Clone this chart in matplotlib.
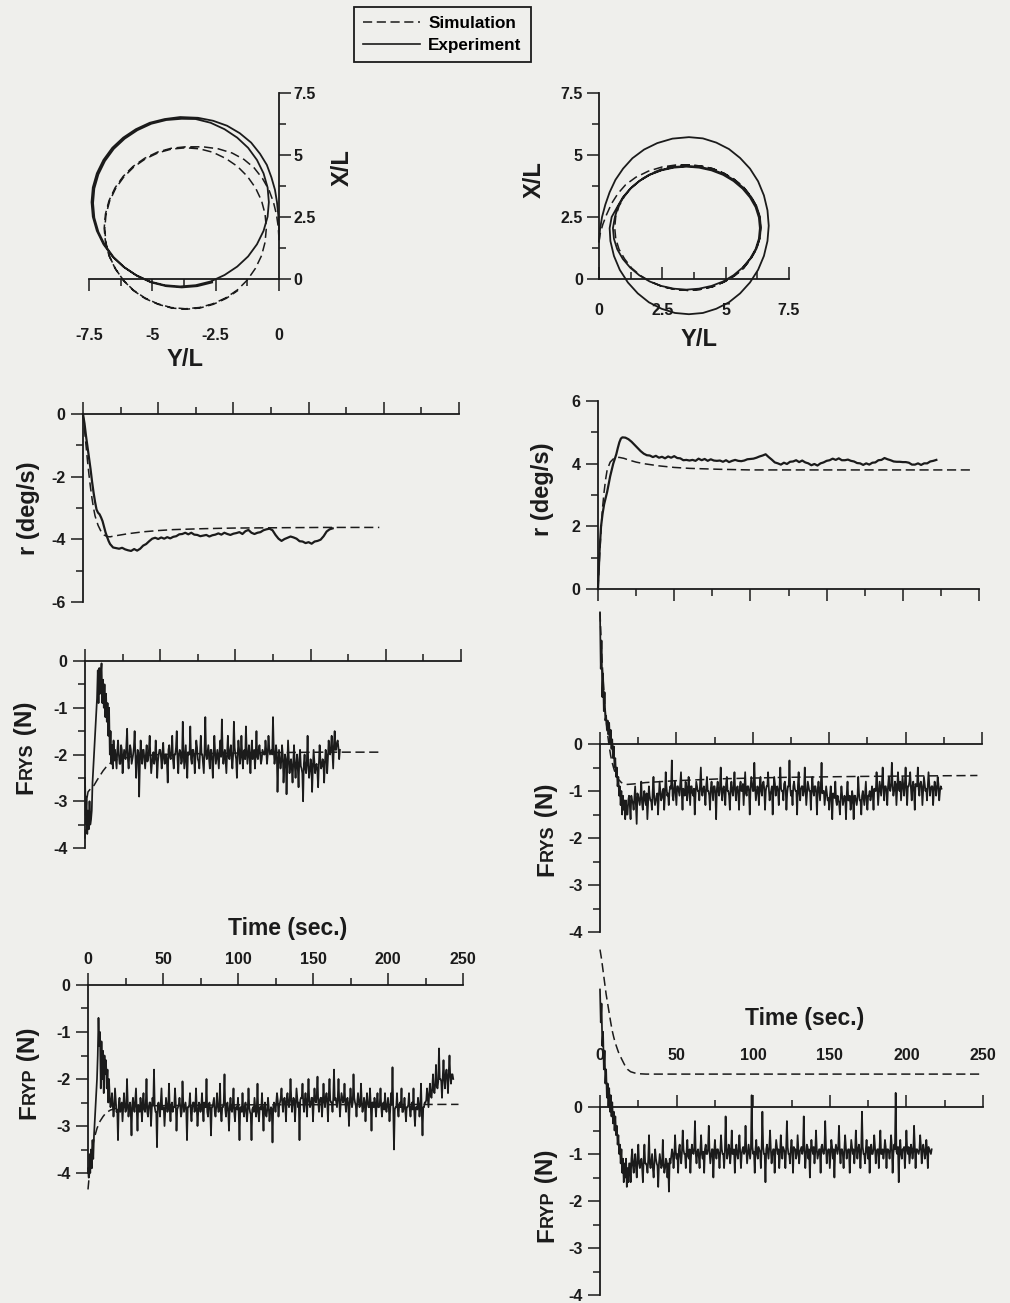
import numpy as np
import matplotlib
matplotlib.use("Agg")
import matplotlib.pyplot as plt
from matplotlib.lines import Line2D
from matplotlib.ticker import FuncFormatter

plt.rcParams['font.family'] = ['Liberation Sans', 'DejaVu Sans']
plt.rcParams['font.weight'] = 'bold'

W, H = 1010, 1303
INK = '#1b1b1b'
PAPER = '#efefec'
DASHED = (0, (6.0, 3.0))

# ---------------- trajectories, (Y/L, X/L) ----------------
traj_left_exp = [
    (0.0, 1.6), (0.0, 2.1), (-0.03, 2.6), (-0.08, 3.1), (-0.16, 3.6), (-0.3, 4.1),
    (-0.48, 4.6), (-0.75, 5.05), (-1.1, 5.5), (-1.55, 5.88), (-2.05, 6.18), (-2.6, 6.38),
    (-3.2, 6.5), (-3.9, 6.53), (-4.51, 6.45), (-5.1, 6.3), (-5.65, 6.04), (-6.15, 5.7),
    (-6.58, 5.29), (-6.93, 4.8), (-7.19, 4.26), (-7.35, 3.69), (-7.4, 3.1), (-7.35, 2.51),
    (-7.19, 1.94), (-6.93, 1.4), (-6.58, 0.91), (-6.15, 0.5), (-5.65, 0.16), (-5.1, -0.1),
    (-4.51, -0.25), (-3.9, -0.3), (-3.29, -0.25), (-2.7, -0.1), (-2.15, 0.16), (-1.65, 0.5),
    (-1.22, 0.91), (-0.87, 1.4), (-0.61, 1.94), (-0.45, 2.51), (-0.4, 3.1), (-0.45, 3.69),
    (-0.61, 4.26), (-0.87, 4.8), (-1.22, 5.29), (-1.65, 5.7), (-2.15, 6.04), (-2.7, 6.3),
    (-3.29, 6.45), (-3.84, 6.46), (-4.45, 6.41), (-5.04, 6.26), (-5.59, 6.0), (-6.09, 5.66),
    (-6.52, 5.25), (-6.87, 4.76), (-7.13, 4.22), (-7.29, 3.65), (-7.34, 3.06), (-7.29, 2.47),
    (-7.13, 1.9), (-6.87, 1.36), (-6.52, 0.87), (-6.09, 0.46), (-5.59, 0.12), (-5.04, -0.14),
    (-4.45, -0.29), (-3.84, -0.34), (-3.23, -0.29), (-2.64, -0.14),
]
traj_left_sim = [
    (0.0, 1.6), (-0.03, 2.1), (-0.1, 2.6), (-0.22, 3.1), (-0.4, 3.6), (-0.65, 4.05),
    (-0.98, 4.48), (-1.38, 4.82), (-1.85, 5.08), (-2.4, 5.25), (-3.0, 5.33), (-3.7, 5.33),
    (-4.26, 5.27), (-4.79, 5.12), (-5.3, 4.87), (-5.76, 4.54), (-6.15, 4.14), (-6.47, 3.68),
    (-6.71, 3.16), (-6.85, 2.62), (-6.9, 2.05), (-6.85, 1.48), (-6.71, 0.94), (-6.47, 0.43),
    (-6.15, -0.04), (-5.76, -0.44), (-5.3, -0.76), (-4.79, -1.0), (-4.26, -1.15), (-3.7, -1.2),
    (-3.14, -1.15), (-2.61, -1.0), (-2.1, -0.76), (-1.64, -0.44), (-1.25, -0.04), (-0.93, 0.43),
    (-0.69, 0.94), (-0.55, 1.48), (-0.5, 2.05), (-0.55, 2.62), (-0.69, 3.16), (-0.93, 3.68),
    (-1.25, 4.14), (-1.64, 4.54), (-2.1, 4.86), (-2.61, 5.11), (-3.14, 5.25), (-3.68, 5.29),
    (-4.24, 5.24), (-4.77, 5.09), (-5.28, 4.84), (-5.74, 4.51), (-6.13, 4.11), (-6.45, 3.65),
    (-6.69, 3.13), (-6.83, 2.59), (-6.88, 2.02), (-6.83, 1.45), (-6.69, 0.91), (-6.45, 0.4),
    (-6.13, -0.07), (-5.74, -0.47), (-5.28, -0.79), (-4.77, -1.02), (-4.24, -1.17),
    (-3.68, -1.22), (-3.12, -1.17), (-2.59, -1.02), (-2.08, -0.78), (-1.62, -0.46),
]
traj_right_exp = [
    (0.0, 1.5), (0.04, 2.0), (0.12, 2.5), (0.25, 3.0), (0.42, 3.5), (0.65, 4.0),
    (0.95, 4.45), (1.32, 4.87), (1.78, 5.22), (2.3, 5.48), (2.9, 5.66), (3.55, 5.72),
    (4.1, 5.67), (4.63, 5.5), (5.13, 5.24), (5.57, 4.88), (5.96, 4.45), (6.28, 3.94),
    (6.51, 3.37), (6.65, 2.77), (6.7, 2.15), (6.65, 1.53), (6.51, 0.93), (6.28, 0.37),
    (5.96, -0.14), (5.57, -0.58), (5.13, -0.94), (4.63, -1.2), (4.1, -1.37), (3.55, -1.42),
    (3.0, -1.37), (2.47, -1.2), (1.97, -0.94), (1.53, -0.58), (1.14, -0.14), (0.82, 0.37),
    (0.59, 0.93), (0.45, 1.53), (0.42, 2.05), (0.5, 2.5), (0.72, 2.9), (0.94, 3.29),
    (1.23, 3.64), (1.59, 3.95), (2.0, 4.2), (2.46, 4.38), (2.95, 4.49), (3.45, 4.53),
    (3.95, 4.49), (4.44, 4.38), (4.9, 4.2), (5.31, 3.95), (5.67, 3.64), (5.96, 3.29),
    (6.18, 2.9), (6.31, 2.48), (6.35, 2.05), (6.31, 1.62), (6.18, 1.2), (5.96, 0.81),
    (5.67, 0.46), (5.31, 0.15), (4.9, -0.1), (4.44, -0.28), (3.95, -0.39), (3.45, -0.43),
    (2.95, -0.39), (2.46, -0.28), (2.0, -0.1), (1.59, 0.15), (1.23, 0.46), (0.94, 0.81),
    (0.72, 1.2), (0.59, 1.62), (0.55, 2.05), (0.63, 2.51), (0.76, 2.93), (0.98, 3.32),
    (1.27, 3.67), (1.63, 3.98), (2.04, 4.23), (2.5, 4.41), (2.99, 4.52), (3.49, 4.56),
    (3.99, 4.52), (4.48, 4.41), (4.94, 4.23), (5.35, 3.98), (5.71, 3.67), (6.0, 3.32),
    (6.22, 2.93), (6.35, 2.51), (6.39, 2.08), (6.35, 1.65), (6.22, 1.23), (6.0, 0.84),
    (5.71, 0.49),
]
traj_right_sim = [
    (0.0, 1.5), (0.04, 1.8), (0.15, 2.2), (0.3, 2.6), (0.5, 3.05), (0.75, 3.45),
    (1.05, 3.8), (1.45, 4.1), (1.95, 4.35), (2.5, 4.52), (3.05, 4.6), (3.5, 4.6),
    (4.0, 4.56), (4.49, 4.45), (4.94, 4.26), (5.35, 4.01), (5.71, 3.7), (5.99, 3.34),
    (6.21, 2.94), (6.34, 2.51), (6.38, 2.07), (6.34, 1.63), (6.21, 1.2), (5.99, 0.81),
    (5.71, 0.44), (5.35, 0.13), (4.94, -0.12), (4.49, -0.31), (4.0, -0.42), (3.5, -0.46),
    (3.0, -0.42), (2.51, -0.31), (2.06, -0.12), (1.65, 0.13), (1.29, 0.44), (1.01, 0.81),
    (0.79, 1.2), (0.66, 1.63), (0.62, 2.07), (0.66, 2.51), (0.79, 2.94), (1.01, 3.34),
    (1.29, 3.7), (1.65, 4.01), (2.06, 4.26), (2.51, 4.45), (3.0, 4.56), (3.5, 4.6),
    (4.0, 4.56), (4.49, 4.45), (4.94, 4.26), (5.35, 4.01), (5.71, 3.7), (5.99, 3.34),
    (6.21, 2.94), (6.34, 2.51), (6.38, 2.07), (6.34, 1.63), (6.21, 1.2), (5.99, 0.81),
    (5.71, 0.44), (5.35, 0.13), (4.94, -0.12), (4.49, -0.31), (4.0, -0.42), (3.5, -0.46),
    (3.0, -0.42), (2.51, -0.31), (2.06, -0.12),
]

# ---------------- yaw rate r (deg/s) ----------------
r_left_sim_t = [0, 1, 2, 3, 4, 5, 6, 7, 8, 10, 12, 14, 16, 18, 20, 25, 30, 40, 50, 60, 80, 100, 130, 160, 197]
r_left_sim = [0.0, -0.5, -1.0, -1.5, -1.95, -2.35, -2.7, -3.0, -3.25, -3.55, -3.75, -3.86, -3.91,
              -3.92, -3.9, -3.86, -3.82, -3.76, -3.72, -3.69, -3.66, -3.64, -3.63, -3.62, -3.62]
r_left_exp_t = [0, 1, 2, 3, 4, 5, 6, 7, 8, 9, 10, 11, 12, 13, 14, 15, 16, 17, 18, 20, 22, 24, 26, 28]
r_left_exp = [0.0, -0.3, -0.7, -1.05, -1.4, -1.75, -2.15, -2.5, -2.8, -3.05, -3.15, -3.2, -3.3,
              -3.42, -3.6, -3.78, -3.92, -4.05, -4.15, -4.26, -4.28, -4.3, -4.27, -4.32]
r_left_tail_t0, r_left_tail_dt = 30, 2
r_left_tail = [
    -4.35, -4.37, -4.31, -4.36, -4.3, -4.2, -4.15, -4.06, -3.98, -3.95,
    -3.99, -3.94, -3.98, -3.93, -3.97, -3.92, -3.9, -3.84, -3.83, -3.79,
    -3.84, -3.79, -3.85, -3.86, -3.9, -3.88, -3.86, -3.91, -3.87, -3.85,
    -3.81, -3.85, -3.79, -3.83, -3.86, -3.82, -3.8, -3.77, -3.83, -3.74,
    -3.7, -3.79, -3.83, -3.79, -3.77, -3.71, -3.68, -3.66, -3.71, -3.86,
    -3.98, -4.05, -3.99, -3.95, -3.91, -3.94, -3.98, -4.06, -4.07, -4.12,
    -4.09, -4.14, -4.07, -4.05, -4.01, -3.9, -3.75, -3.68, -3.65,
]
r_right_sim_t = [0, 1, 2, 3, 4, 5, 6, 8, 10, 12, 14, 17, 20, 25, 30, 40, 50, 60, 80, 100, 150, 247]
r_right_sim = [0.0, 1.0, 1.9, 2.6, 3.1, 3.5, 3.8, 4.05, 4.15, 4.2, 4.2, 4.17, 4.12, 4.05, 4.0,
               3.93, 3.88, 3.85, 3.82, 3.8, 3.8, 3.8]
r_right_exp_t = [0, 1, 2, 3, 4, 5, 6, 7, 8, 9, 10, 11, 12, 13, 14, 15, 16, 18, 20, 22, 24, 26, 28]
r_right_exp = [0.0, 1.2, 2.0, 2.4, 2.7, 2.9, 3.1, 3.35, 3.6, 3.8, 4.0, 4.15, 4.3, 4.5, 4.68, 4.8,
               4.84, 4.83, 4.78, 4.7, 4.6, 4.5, 4.4]
r_right_tail_t0, r_right_tail_dt = 30, 2
r_right_tail = [
    4.32, 4.27, 4.26, 4.21, 4.25, 4.19, 4.22, 4.17, 4.23, 4.19,
    4.24, 4.18, 4.17, 4.11, 4.12, 4.1, 4.12, 4.09, 4.16, 4.11,
    4.15, 4.09, 4.14, 4.1, 4.09, 4.1, 4.06, 4.11, 4.05, 4.09,
    4.12, 4.09, 4.08, 4.1, 4.14, 4.15, 4.16, 4.19, 4.23, 4.26,
    4.3, 4.21, 4.13, 4.04, 4.01, 3.97, 4.03, 3.99, 4.06, 4.07,
    4.11, 4.05, 4.1, 4.04, 4.01, 3.95, 3.99, 3.94, 4.01, 4.04,
    4.09, 4.11, 4.16, 4.12, 4.17, 4.11, 4.11, 4.13, 4.09, 4.07,
    4.02, 4.01, 3.96, 4.01, 3.97, 4.03, 4.04, 4.11, 4.12, 4.18,
    4.14, 4.11, 4.07, 4.06, 4.06, 4.05, 4.05, 4.03, 3.97, 3.97,
    4.01, 3.96, 4.01, 4.01, 4.07, 4.09, 4.12,
]

# ---------------- side force FRYS (N) ----------------
# recorded samples: transient (own times), then 1 s samples ("tail") and the
# samples half a second after each of them ("half")
frys_left_sim_t = [0, 1, 2, 4, 6, 8, 10, 12, 14, 17, 20, 30, 50, 80, 120, 160, 197]
frys_left_sim = [-3.8, -3.0, -2.8, -2.72, -2.66, -2.55, -2.45, -2.35, -2.27, -2.18, -2.12,
                 -2.05, -2.0, -1.98, -1.96, -1.95, -1.95]
frys_left_exp_t = [0, 0.5, 1, 1.5, 2, 2.5, 3, 3.5, 4, 4.5, 5, 6, 7, 8, 8.5, 9, 9.5, 10, 10.5,
                   11, 11.5, 12, 12.5, 13, 13.5, 14, 14.5, 15, 15.5, 16, 16.5, 17, 17.5, 18,
                   18.5, 19, 19.5]
frys_left_exp = [-2.5, -3.3, -2.9, -3.7, -3.2, -3.6, -3.0, -3.5, -3.4, -3.2, -2.6, -2.0, -1.4,
                 -0.8, -0.2, -0.9, -0.15, -0.7, -0.3, -0.05, -0.9, -0.4, -1.0, -0.5, -1.2, -0.7,
                 -1.3, -0.9, -1.6, -1.0, -2.0, -1.5, -2.2, -1.8, -2.3, -1.7, -2.1]
frys_left_tail_t0 = 20
frys_left_tail = [
    -1.9, -2.3, -1.7, -2.2, -1.8, -2.4, -1.9, -2.1, -1.45, -2.3,
    -1.8, -2.2, -2.0, -1.5, -2.5, -1.9, -2.9, -1.7, -2.2, -1.9,
    -2.3, -1.8, -2.1, -1.6, -2.4, -2.0, -2.2, -1.7, -2.5, -2.0,
    -1.9, -2.3, -1.75, -2.2, -2.0, -2.6, -1.8, -2.1, -1.6, -2.3,
    -2.0, -1.5, -2.4, -1.9, -2.2, -1.3, -2.3, -1.8, -2.5, -2.0,
    -1.4, -2.2, -1.9, -2.4, -1.7, -2.1, -2.3, -1.6, -2.0, -2.4,
    -1.2, -2.1, -1.8, -2.3, -1.9, -2.5, -1.6, -2.2, -1.9, -2.3,
    -1.7, -1.25, -2.2, -1.9, -2.4, -1.6, -2.1, -1.8, -2.3, -1.3,
    -2.0, -2.5, -1.7, -2.2, -1.6, -2.3, -1.9, -1.4, -2.2, -1.8,
    -2.4, -1.7, -2.0, -2.3, -1.5, -2.1, -1.8, -2.2, -1.9, -2.0,
    -1.7, -2.2, -1.6, -2.0, -1.9, -1.2, -2.2, -1.8, -2.8, -1.9,
    -2.3, -1.8, -2.6, -2.0, -2.85, -1.7, -2.4, -2.1, -2.6, -1.8,
    -2.5, -2.0, -2.7, -1.9, -2.3, -3.0, -2.0, -2.4, -1.6, -2.5,
    -2.1, -2.8, -1.9, -2.4, -2.2, -2.7, -1.8, -2.3, -2.1, -2.6,
    -1.9, -2.4, -1.7, -2.0, -1.6, -2.3, -1.5, -1.9, -1.7, -2.1,
]
frys_left_half = [
    -2.1, -1.9, -2.0, -2.2, -1.9, -2.1, -2.0, -1.8, -2.1, -2.0,
    -1.9, -2.1, -1.85, -2.0, -2.15, -1.95, -2.2, -2.0, -1.9, -2.1,
    -2.0, -2.15, -1.9, -2.05, -2.2, -1.95, -2.1, -2.0, -2.15, -1.9,
    -2.05, -1.95, -2.1, -2.0, -2.2, -1.9, -2.05, -1.95, -2.1, -2.0,
    -1.85, -2.1, -2.0, -1.95, -2.15, -1.9, -2.05, -2.2, -1.95, -2.0,
    -2.1, -1.9, -2.05, -2.0, -1.85, -2.15, -1.95, -2.0, -2.2, -1.9,
    -2.0, -1.95, -2.1, -1.9, -2.15, -2.0, -1.95, -2.05, -2.1, -1.9,
    -2.05, -1.9, -2.0, -2.15, -1.95, -2.05, -1.9, -2.1, -2.0, -1.85,
    -2.1, -2.0, -1.9, -2.05, -2.0, -1.95, -2.1, -1.9, -2.0, -2.05,
    -1.95, -2.1, -1.9, -2.0, -2.05, -1.9, -2.0, -2.1, -1.95, -2.0,
    -1.9, -2.0, -1.85, -1.95, -2.0, -1.9, -2.05, -1.95, -2.2, -2.1,
    -2.15, -2.0, -2.25, -2.1, -2.3, -2.05, -2.2, -2.3, -2.15, -2.25,
    -2.2, -2.3, -2.1, -2.25, -2.4, -2.2, -2.3, -2.15, -2.25, -2.35,
    -2.2, -2.3, -2.15, -2.25, -2.35, -2.2, -2.1, -2.25, -2.15, -2.2,
    -2.0, -2.1, -1.9, -1.85, -1.95, -1.8, -1.9, -1.75, -1.85, -1.9,
]
frys_right_sim_t = [0, 1, 2, 3, 4, 5, 6, 7, 8, 9, 10, 12, 14, 16, 18, 22, 30, 50, 80, 120, 170, 247]
frys_right_sim = [2.8, 2.0, 1.4, 0.9, 0.5, 0.2, -0.05, -0.25, -0.4, -0.52, -0.62, -0.75, -0.82,
                  -0.85, -0.86, -0.85, -0.82, -0.78, -0.74, -0.71, -0.69, -0.67]
frys_right_exp_t = [0, 0.5, 1, 1.5, 2, 2.5, 3, 3.5, 4, 4.5, 5, 5.5, 6, 6.5, 7, 7.5, 8, 8.5, 9,
                    9.5, 10, 10.5, 11, 11.5, 12, 12.5, 13, 13.5, 14, 14.5, 15, 15.5, 16, 16.5,
                    17, 17.5]
frys_right_exp = [2.8, 1.6, 2.2, 1.0, 1.5, 0.7, 1.1, 0.5, 0.6, 0.3, 0.5, 0.2, 0.45, 0.0, 0.3,
                  -0.1, 0.1, -0.3, -0.05, -0.5, -0.3, -0.7, -0.5, -0.9, -0.7, -1.1, -0.9, -1.3,
                  -1.0, -1.5, -1.1, -1.4, -1.2, -1.6, -1.2, -1.5]
frys_right_tail_t0 = 18
frys_right_tail = [
    -1.5, -1.1, -1.6, -1.2, -1.4, -0.9, -1.7, -1.1, -1.3, -0.8,
    -1.4, -1.0, -1.3, -1.6, -0.9, -1.2, -1.4, -0.7, -1.3, -1.1,
    -1.5, -0.8, -1.2, -1.0, -1.4, -0.6, -1.1, -1.3, -0.9, -0.35,
    -1.2, -0.8, -1.3, -0.9, -1.1, -0.6, -1.4, -1.0, -0.8, -1.2,
    -0.7, -1.3, -0.9, -1.1, -1.5, -0.8, -1.0, -1.2, -0.5, -1.1,
    -0.9, -1.3, -0.7, -1.0, -1.4, -0.8, -1.2, -0.9, -1.6, -0.8,
    -1.1, -0.5, -1.2, -0.9, -1.3, -0.7, -1.0, -1.4, -0.8, -1.1,
    -0.6, -1.2, -0.9, -1.4, -0.8, -1.0, -1.3, -0.6, -1.1, -0.9,
    -1.5, -0.7, -1.0, -0.4, -1.2, -0.9, -1.3, -0.7, -1.1, -0.8,
    -1.4, -0.9, -0.6, -1.2, -1.0, -1.5, -0.7, -1.1, -0.9, -1.3,
    -0.5, -1.0, -1.2, -0.8, -1.4, -0.9, -0.35, -1.1, -1.3, -0.8,
    -1.0, -1.5, -0.6, -1.2, -0.9, -1.1, -0.5, -1.3, -0.8, -1.0,
    -1.4, -0.7, -1.1, -0.9, -1.5, -0.8, -1.2, -0.4, -1.0, -1.3,
    -0.9, -1.2, -1.4, -0.9, -1.6, -1.1, -0.8, -1.3, -1.2, -1.5,
    -0.9, -1.3, -1.1, -1.6, -0.8, -1.2, -1.4, -1.0, -1.6, -1.1,
    -1.3, -0.7, -1.2, -1.5, -1.0, -1.3, -0.8, -1.4, -1.1, -1.2,
    -0.9, -1.4, -1.0, -0.6, -1.3, -0.8, -1.1, -0.5, -1.2, -0.9,
    -1.3, -0.7, -1.0, -0.4, -1.1, -0.8, -1.3, -0.6, -1.0, -1.2,
    -0.7, -1.1, -0.5, -1.3, -0.9, -0.6, -1.2, -0.8, -1.4, -0.9,
    -0.5, -1.1, -0.8, -1.3, -0.7, -1.0, -1.2, -0.6, -1.1, -0.9,
    -1.3, -0.8, -1.1, -0.7, -1.2, -0.9,
]
frys_right_half = [
    -1.2, -1.3, -1.1, -1.25, -1.15, -1.3, -1.05, -1.2, -1.1, -1.25,
    -1.15, -1.2, -1.05, -1.25, -1.1, -1.2, -1.0, -1.15, -1.2, -1.05,
    -1.1, -1.0, -1.15, -0.95, -1.1, -0.9, -1.05, -1.0, -0.95, -1.1,
    -0.95, -1.05, -0.9, -1.0, -0.85, -1.05, -0.95, -1.1, -0.9, -1.0,
    -1.0, -0.9, -1.05, -0.95, -1.1, -0.9, -1.0, -0.85, -1.0, -0.95,
    -1.05, -0.9, -1.0, -1.1, -0.95, -1.0, -0.9, -1.05, -0.95, -1.0,
    -0.9, -1.0, -0.95, -1.05, -0.85, -1.0, -1.1, -0.95, -1.0, -0.9,
    -1.0, -0.95, -1.05, -0.9, -1.0, -0.85, -0.95, -1.05, -0.9, -1.0,
    -0.95, -0.85, -1.0, -0.9, -1.05, -0.95, -0.9, -1.0, -0.85, -0.95,
    -1.0, -0.9, -0.95, -1.05, -0.9, -1.0, -0.85, -0.95, -1.0, -0.9,
    -0.95, -1.0, -0.85, -0.95, -1.05, -0.9, -0.95, -1.0, -0.9, -0.95,
    -1.0, -0.9, -1.05, -0.95, -0.9, -1.0, -0.95, -1.05, -0.9, -1.0,
    -0.95, -1.0, -0.9, -1.05, -0.95, -1.0, -0.9, -1.05, -1.0, -1.1,
    -1.05, -1.15, -1.1, -1.2, -1.05, -1.15, -1.2, -1.1, -1.25, -1.15,
    -1.1, -1.2, -1.15, -1.05, -1.2, -1.1, -1.25, -1.15, -1.1, -1.2,
    -1.15, -1.05, -1.2, -1.1, -1.15, -1.05, -1.2, -1.1, -1.0, -1.1,
    -1.05, -0.95, -1.0, -0.9, -1.05, -0.95, -0.85, -0.95, -0.9, -1.0,
    -0.9, -0.95, -0.85, -0.9, -1.0, -0.85, -0.95, -0.9, -0.8, -0.95,
    -0.9, -0.85, -0.95, -0.9, -0.8, -0.95, -0.9, -1.0, -0.85, -0.9,
    -0.95, -0.85, -0.9, -1.0, -0.85, -0.95, -0.9, -0.85, -0.95, -0.9,
    -1.0, -0.9, -0.95, -0.85, -1.0, -0.95,
]

# ---------------- side force FRYP (N) ----------------
fryp_left_sim_t = [0, 1, 2, 3, 4, 6, 8, 10, 12, 15, 20, 40, 100, 247]
fryp_left_sim = [-4.35, -4.0, -3.7, -3.45, -3.28, -3.05, -2.9, -2.8, -2.72, -2.66, -2.61,
                 -2.57, -2.55, -2.54]
fryp_left_exp_t = [0, 0.5, 1, 1.5, 2, 2.5, 3, 3.5, 4, 5, 6, 6.5, 7, 7.5, 8, 8.5, 9, 9.5, 10,
                   10.5, 11, 11.5, 12, 12.5, 13, 13.5, 14, 14.5]
fryp_left_exp = [-3.9, -4.1, -3.6, -4.0, -3.5, -3.9, -3.3, -3.7, -3.2, -2.6, -2.0, -1.5, -0.7,
                 -1.3, -1.0, -2.2, -1.2, -2.0, -1.4, -2.3, -1.5, -1.9, -1.6, -2.2, -1.8, -2.5,
                 -2.0, -2.4]
fryp_left_tail_t0 = 15
fryp_left_tail = [
    -2.6, -2.3, -2.8, -2.2, -2.7, -3.3, -2.4, -2.6, -2.9, -2.3,
    -2.7, -2.0, -2.8, -2.5, -3.2, -2.4, -2.7, -2.2, -3.1, -2.6,
    -2.4, -2.9, -2.3, -2.7, -2.0, -2.8, -2.5, -3.0, -2.4, -1.8,
    -2.7, -3.45, -2.5, -2.8, -2.2, -2.6, -3.0, -2.4, -2.7, -2.1,
    -2.9, -2.5, -2.6, -2.2, -3.1, -2.6, -2.4, -2.8, -2.05, -2.7,
    -2.5, -3.3, -2.6, -2.3, -2.9, -2.5, -2.7, -2.2, -3.0, -2.5,
    -2.7, -2.3, -2.9, -2.6, -2.0, -2.8, -2.5, -3.2, -2.6, -2.4,
    -2.8, -2.3, -2.7, -2.1, -2.9, -2.6, -1.9, -2.8, -2.5, -3.1,
    -2.4, -2.7, -2.2, -2.9, -2.6, -2.4, -3.3, -2.6, -2.3, -2.8,
    -2.5, -2.9, -2.2, -2.7, -3.3, -2.6, -2.4, -2.8, -2.1, -2.9,
    -2.6, -2.3, -3.1, -2.5, -2.8, -2.4, -2.9, -2.6, -3.35, -2.5,
    -2.7, -2.3, -2.8, -2.5, -2.2, -2.7, -2.4, -2.9, -2.3, -2.6,
    -2.0, -2.7, -2.4, -2.9, -2.2, -2.6, -3.3, -2.4, -2.1, -2.7,
    -2.3, -2.8, -2.0, -2.6, -2.4, -2.9, -2.2, -2.5, -1.95, -2.7,
    -2.4, -2.8, -2.1, -2.6, -2.3, -2.9, -2.0, -2.5, -2.7, -1.8,
    -2.4, -2.6, -2.0, -2.8, -2.3, -2.5, -2.1, -2.7, -2.4, -3.0,
    -2.2, -2.6, -1.9, -2.5, -2.8, -2.3, -2.6, -2.1, -2.7, -2.4,
    -2.9, -2.3, -2.6, -2.2, -3.1, -2.5, -2.4, -2.8, -2.3, -2.6,
    -2.2, -2.8, -2.5, -2.3, -2.7, -2.4, -2.9, -2.3, -1.75, -3.5,
    -2.6, -2.3, -2.8, -2.5, -2.2, -2.7, -2.4, -2.9, -2.6, -2.3,
    -2.8, -2.5, -2.2, -3.0, -2.6, -2.4, -2.8, -2.1, -3.2, -2.6,
    -2.5, -2.2, -2.6, -2.1, -2.4, -1.9, -2.3, -1.7, -2.2, -1.35,
    -2.0, -2.4, -1.6, -2.2, -1.8, -2.3, -1.5, -2.1, -1.9,
]
fryp_left_half = [
    -2.5, -2.55, -2.6, -2.45, -2.65, -2.55, -2.7, -2.5, -2.6, -2.55,
    -2.65, -2.5, -2.6, -2.7, -2.55, -2.6, -2.45, -2.65, -2.55, -2.7,
    -2.6, -2.5, -2.65, -2.55, -2.7, -2.6, -2.5, -2.65, -2.55, -2.6,
    -2.7, -2.55, -2.6, -2.5, -2.65, -2.6, -2.7, -2.55, -2.6, -2.65,
    -2.55, -2.7, -2.6, -2.5, -2.65, -2.55, -2.6, -2.7, -2.5, -2.6,
    -2.65, -2.6, -2.55, -2.7, -2.6, -2.5, -2.65, -2.6, -2.7, -2.55,
    -2.6, -2.65, -2.5, -2.6, -2.7, -2.55, -2.65, -2.6, -2.5, -2.7,
    -2.6, -2.55, -2.65, -2.7, -2.6, -2.5, -2.65, -2.55, -2.7, -2.6,
    -2.65, -2.55, -2.7, -2.6, -2.65, -2.75, -2.6, -2.7, -2.65, -2.6,
    -2.7, -2.65, -2.6, -2.75, -2.65, -2.7, -2.6, -2.65, -2.7, -2.6,
    -2.65, -2.7, -2.6, -2.75, -2.65, -2.6, -2.7, -2.65, -2.6, -2.55,
    -2.5, -2.45, -2.55, -2.4, -2.5, -2.45, -2.55, -2.4, -2.5, -2.45,
    -2.4, -2.5, -2.45, -2.55, -2.4, -2.5, -2.45, -2.4, -2.5, -2.45,
    -2.5, -2.4, -2.45, -2.55, -2.4, -2.5, -2.45, -2.35, -2.5, -2.45,
    -2.4, -2.5, -2.45, -2.4, -2.5, -2.35, -2.45, -2.5, -2.4, -2.45,
    -2.5, -2.4, -2.45, -2.5, -2.4, -2.45, -2.5, -2.45, -2.55, -2.5,
    -2.45, -2.5, -2.4, -2.55, -2.5, -2.45, -2.55, -2.5, -2.6, -2.5,
    -2.55, -2.5, -2.6, -2.55, -2.5, -2.6, -2.55, -2.5, -2.6, -2.55,
    -2.6, -2.55, -2.65, -2.6, -2.55, -2.6, -2.65, -2.55, -2.6, -2.65,
    -2.6, -2.65, -2.55, -2.6, -2.7, -2.6, -2.65, -2.6, -2.55, -2.65,
    -2.6, -2.65, -2.7, -2.6, -2.65, -2.55, -2.6, -2.7, -2.6, -2.5,
    -2.45, -2.4, -2.3, -2.35, -2.2, -2.25, -2.1, -2.15, -2.05, -2.0,
    -2.05, -1.95, -2.0, -1.9, -2.0, -1.85, -1.95, -1.9, -2.0,
]
fryp_right_sim_t = [0, 1, 2, 3, 4, 5, 6, 7, 8, 9, 10, 12, 14, 16, 18, 20, 24, 30, 60, 250]
fryp_right_sim = [3.35, 3.15, 2.9, 2.65, 2.4, 2.2, 2.0, 1.8, 1.62, 1.48, 1.36, 1.17, 1.03,
                  0.9, 0.8, 0.75, 0.71, 0.7, 0.7, 0.7]
fryp_right_exp_t = [0, 0.5, 1, 1.5, 2, 2.5, 3, 3.5, 4, 4.5, 5, 5.5, 6, 6.5, 7, 7.5, 8, 8.5, 9,
                    9.5, 10, 10.5, 11, 11.5, 12, 12.5, 13, 13.5, 14, 14.5, 15, 15.5, 16, 16.5,
                    17, 17.5, 18, 18.5]
fryp_right_exp = [2.5, 1.8, 2.2, 1.3, 1.6, 0.8, 1.2, 0.5, 0.8, 0.2, 0.5, 0.0, 0.4, -0.1, 0.25,
                  -0.2, 0.1, -0.35, -0.1, -0.5, -0.2, -0.6, -0.4, -0.8, -0.6, -1.0, -0.8, -1.2,
                  -0.9, -1.4, -1.1, -1.6, -1.2, -1.5, -1.1, -1.7, -1.3, -1.6]
fryp_right_tail_t0 = 19
fryp_right_tail = [
    -1.2, -1.6, -0.9, -1.4, -1.0, -1.5, -0.8, -1.3, -1.1, -1.6,
    -0.8, -1.2, -1.4, -0.6, -1.3, -1.0, -1.5, -0.9, -1.2, -1.7,
    -1.0, -1.3, -0.7, -1.4, -1.1, -1.5, -1.8, -1.2, -0.9, -1.3,
    -0.6, -1.1, -1.4, -0.8, -1.2, -0.5, -1.0, -1.3, -0.7, -1.1,
    -1.4, -0.8, -1.0, -0.3, -1.2, -0.9, -1.3, -0.6, -1.1, -1.4,
    -0.8, -1.0, -0.4, -1.2, -0.9, -1.5, -0.7, -1.1, -0.9, -1.3,
    -0.6, -1.0, -1.3, -0.2, -1.1, -0.8, -1.2, -0.5, -1.0, -1.4,
    -0.8, -1.1, -0.6, -1.3, -0.9, -1.0, -0.4, -1.2, -0.8, -1.1,
    0.25, -1.0, -1.4, -0.7, -1.1, -0.9, -1.3, -0.1, -1.0, -1.6,
    -0.8, -1.1, -0.5, -1.2, -0.9, -1.4, -0.7, -1.0, -1.3, -0.6,
    -1.1, -0.9, -1.3, -0.3, -1.0, -1.2, -0.7, -1.4, -0.9, -1.1,
    -0.6, -1.2, -0.9, -1.0, -0.2, -1.3, -0.8, -1.1, -1.5, -0.7,
    -1.0, -1.2, -0.5, -1.1, -0.9, -1.4, -0.8, -1.0, -0.3, -1.2,
    -0.9, -1.3, -0.7, -1.1, -1.5, -0.8, -1.0, -0.4, -1.2, -0.9,
    -1.3, -0.6, -1.1, -0.9, -1.4, -0.7, -1.0, -1.2, -0.5, -1.1,
    -0.8, -1.3, -0.1, -1.0, -1.2, -0.7, -1.1, -1.4, -0.8, -1.0,
    -0.6, -1.2, -0.9, -1.3, -0.5, -1.0, -1.1, -0.7, -1.3, -0.9,
    -1.1, -0.6, -1.4, -0.8, 0.3, -1.0, -1.6, -0.7, -1.1, -0.9,
    -1.3, -0.5, -1.0, -1.2, -0.8, -1.1, -0.4, -1.3, -0.9, -1.0,
    -0.6, -1.2, -0.8, -1.1, -0.7, -1.3, -0.9, -1.0,
]
fryp_right_half = [
    -1.2, -1.1, -1.25, -1.15, -1.3, -1.1, -1.2, -1.15, -1.3, -1.1,
    -1.2, -1.25, -1.1, -1.2, -1.15, -1.3, -1.2, -1.1, -1.25, -1.2,
    -1.15, -1.25, -1.2, -1.3, -1.15, -1.2, -1.1, -1.05, -1.0, -1.05,
    -0.95, -1.0, -0.9, -1.05, -0.95, -0.9, -1.0, -0.95, -1.05, -0.9,
    -1.0, -0.95, -0.9, -1.0, -0.95, -1.05, -0.9, -1.0, -0.95, -0.9,
    -1.0, -0.9, -0.95, -1.05, -0.9, -1.0, -0.95, -0.9, -1.0, -0.95,
    -0.9, -1.0, -0.95, -0.85, -1.0, -0.9, -0.95, -1.0, -0.9, -0.95,
    -1.0, -0.9, -0.95, -1.0, -0.85, -0.95, -0.9, -1.0, -0.95, -0.9,
    -0.85, -0.95, -0.9, -1.0, -0.85, -0.95, -0.9, -0.85, -1.0, -0.9,
    -0.95, -0.85, -0.9, -1.0, -0.9, -0.95, -0.85, -0.9, -1.0, -0.9,
    -0.85, -0.95, -0.9, -0.85, -1.0, -0.9, -0.95, -0.85, -0.9, -1.0,
    -0.9, -0.95, -0.85, -0.9, -0.95, -1.0, -0.85, -0.9, -0.95, -0.9,
    -0.85, -0.95, -0.9, -1.0, -0.9, -0.85, -0.95, -0.9, -0.85, -0.95,
    -0.9, -1.0, -0.85, -0.9, -0.95, -0.9, -0.85, -0.95, -0.9, -1.0,
    -0.9, -0.85, -0.95, -0.9, -1.0, -0.85, -0.9, -0.95, -0.85, -0.9,
    -0.95, -0.9, -0.85, -1.0, -0.9, -0.95, -0.85, -0.9, -1.0, -0.9,
    -0.85, -0.95, -0.9, -0.85, -1.0, -0.9, -0.95, -0.85, -0.9, -0.95,
    -0.9, -0.85, -1.0, -0.9, -0.95, -0.85, -0.9, -1.0, -0.9, -0.85,
    -0.95, -0.9, -0.85, -1.0, -0.9, -0.95, -0.85, -0.9, -0.95, -0.9,
    -0.85, -0.95, -0.9, -1.0, -0.9, -0.85, -0.95, -0.9,
]

time_major = [0, 50, 100, 150, 200, 250]
time_minor = [25, 75, 125, 175, 225]

fig = plt.figure(figsize=(W / 100, H / 100), dpi=100, facecolor=PAPER)


def panel(xref, pxref, yref, pyref, xlim, ylim):
    # place an axes so that the two reference values land on the given pixels
    sx = (pxref[1] - pxref[0]) / (xref[1] - xref[0])
    sy = (pyref[1] - pyref[0]) / (yref[1] - yref[0])
    left = pxref[0] + (xlim[0] - xref[0]) * sx
    right = pxref[0] + (xlim[1] - xref[0]) * sx
    top = pyref[0] + (ylim[1] - yref[0]) * sy
    bottom = pyref[0] + (ylim[0] - yref[0]) * sy
    ax = fig.add_axes([left / W, 1 - bottom / H, (right - left) / W, (bottom - top) / H])
    ax.set_xlim(xlim)
    ax.set_ylim(ylim)
    ax.patch.set_alpha(0)
    return ax


fmt = FuncFormatter(lambda v, p: f'{v + 0.0:g}')


def frame(ax, xside, yside, xmaj, xmin, ymaj, ymin, xdir, ydir,
          xlab=False, ylab=True, xpad=4, ypad=4):
    for name, sp in ax.spines.items():
        sp.set_visible(name in (xside, yside))
        sp.set_linewidth(1.3)
        sp.set_color(INK)
    ax.spines[xside].set_position(('data', 0))
    ax.spines[xside].set_bounds(xmaj[0], xmaj[-1])
    ax.spines[yside].set_position(('data', 0))
    ax.spines[yside].set_bounds(ymaj[0], ymaj[-1])
    ax.xaxis.set_ticks_position(xside)
    ax.yaxis.set_ticks_position(yside)
    ax.set_xticks(xmaj)
    ax.set_xticks(xmin, minor=True)
    ax.set_yticks(ymaj)
    ax.set_yticks(ymin, minor=True)
    ax.xaxis.set_major_formatter(fmt)
    ax.yaxis.set_major_formatter(fmt)
    ax.tick_params(which='major', length=8.6, width=1.1, labelsize=11.5, color=INK, labelcolor=INK)
    ax.tick_params(which='minor', length=5, width=1.1, color=INK)
    ax.tick_params(axis='x', which='both', direction=xdir, pad=xpad)
    ax.tick_params(axis='y', which='both', direction=ydir, pad=ypad)
    if not xlab:
        ax.tick_params(axis='x', labeltop=False, labelbottom=False)
    if not ylab:
        ax.tick_params(axis='y', labelleft=False, labelright=False)


def sim_line(ax, t, v, z=3):
    ax.plot(t, v, color=INK, lw=1.1, linestyle=DASHED, zorder=z)


def exp_line(ax, t, v, lw=1.2, z=2):
    ax.plot(t, v, color=INK, lw=lw, zorder=z, solid_joinstyle='round')


def series(t_head, v_head, t0, tail, dt=1.0, half=None):
    t = [np.asarray(t_head, float), t0 + dt * np.arange(len(tail))]
    v = [np.asarray(v_head, float), np.asarray(tail, float)]
    if half is not None:
        t.append(t0 + 0.5 * dt + dt * np.arange(len(half)))
        v.append(np.asarray(half, float))
    t = np.concatenate(t)
    v = np.concatenate(v)
    order = np.argsort(t, kind='stable')
    return t[order], v[order]


def label_px(x, y, s, size=17, rot=0):
    fig.text(x / W, 1 - y / H, s, fontsize=size, rotation=rot, ha='center', va='center', color=INK)


def stacked_ylabel(x_base, y_center, parts):
    # rotated label built from pieces of different size sharing one baseline
    renderer = fig.canvas.get_renderer()
    texts = [fig.text(0, 0, s, fontsize=size, rotation=90, rotation_mode='anchor',
                      ha='left', va='baseline', color=INK) for s, size in parts]
    lengths = [t.get_window_extent(renderer).height for t in texts]
    y = y_center + sum(lengths) / 2
    for t, L in zip(texts, lengths):
        t.set_position((x_base / W, 1 - y / H))
        y -= L


NOISE_LW = 1.25

# ---- top left: trajectory ----
ax = panel((-7.5, 0), (89, 279), (0, 7.5), (279, 93), (-8.0, 0.6), (-1.6, 7.8))
frame(ax, 'bottom', 'right', [-7.5, -5, -2.5, 0], [-6.25, -3.75, -1.25],
      [0, 2.5, 5, 7.5], [1.25, 3.75, 6.25], 'out', 'out', xlab=True, xpad=27, ypad=2)
ax.tick_params(axis='x', labelbottom=True)
ax.tick_params(axis='y', labelright=True)
p = np.array(traj_left_exp)
exp_line(ax, p[:, 0], p[:, 1], lw=1.3)
p = np.array(traj_left_sim)
sim_line(ax, p[:, 0], p[:, 1])
label_px(185, 360, 'Y/L')
label_px(342, 168, 'X/L', rot=90)

# ---- top right: trajectory ----
ax = panel((0, 7.5), (599, 789), (0, 7.5), (279, 93), (-0.6, 7.9), (-1.7, 7.8))
frame(ax, 'bottom', 'left', [0, 2.5, 5, 7.5], [1.25, 3.75, 6.25],
      [0, 2.5, 5, 7.5], [1.25, 3.75, 6.25], 'in', 'out', xlab=True, xpad=17, ypad=3)
ax.tick_params(axis='x', labelbottom=True)
p = np.array(traj_right_exp)
exp_line(ax, p[:, 0], p[:, 1], lw=1.3)
p = np.array(traj_right_sim)
sim_line(ax, p[:, 0], p[:, 1])
label_px(699, 339, 'Y/L')
label_px(534, 180, 'X/L', rot=90)

# ---- r, left ----
ax = panel((0, 250), (83, 459), (0, -6), (414, 602), (-4, 253), (-6.4, 0.6))
frame(ax, 'top', 'left', time_major, time_minor, [-6, -4, -2, 0], [-5, -3, -1], 'out', 'out')
t, v = series(r_left_exp_t, r_left_exp, r_left_tail_t0, r_left_tail, r_left_tail_dt)
exp_line(ax, t, v, lw=1.6)
sim_line(ax, r_left_sim_t, r_left_sim)
label_px(28, 508, 'r (deg/s)', rot=90)

# ---- r, right ----
ax = panel((0, 250), (598, 979), (0, 6), (589, 401), (-4, 253), (-0.5, 6.4))
frame(ax, 'bottom', 'left', time_major, time_minor, [0, 2, 4, 6], [1, 3, 5], 'out', 'out')
t, v = series(r_right_exp_t, r_right_exp, r_right_tail_t0, r_right_tail, r_right_tail_dt)
exp_line(ax, t, v, lw=1.6)
sim_line(ax, r_right_sim_t, r_right_sim)
label_px(542, 489, 'r (deg/s)', rot=90)

# ---- FRYS, left ----
ax = panel((0, 250), (85, 461), (0, -4), (661, 848), (-4, 253), (-4.4, 0.5))
frame(ax, 'top', 'left', time_major, time_minor, [-4, -3, -2, -1, 0],
      [-3.5, -2.5, -1.5, -0.5], 'out', 'out')
sim_line(ax, frys_left_sim_t, frys_left_sim, z=1)
t, v = series(frys_left_exp_t, frys_left_exp, frys_left_tail_t0, frys_left_tail,
              half=frys_left_half)
exp_line(ax, t, v, lw=NOISE_LW)
stacked_ylabel(32, 748, [('F', 17.5), ('RYS', 13), (' (N)', 17.5)])

# ---- FRYS, right ----
ax = panel((0, 250), (600, 982), (0, -4), (744, 932), (-4, 253), (-4.3, 3.1))
frame(ax, 'top', 'left', time_major, time_minor, [-4, -3, -2, -1, 0],
      [-3.5, -2.5, -1.5, -0.5], 'out', 'out')
sim_line(ax, frys_right_sim_t, frys_right_sim, z=1)
t, v = series(frys_right_exp_t, frys_right_exp, frys_right_tail_t0, frys_right_tail,
              half=frys_right_half)
exp_line(ax, t, v, lw=NOISE_LW)
stacked_ylabel(553, 830, [('F', 17.5), ('RYS', 13), (' (N)', 17.5)])

# ---- FRYP, left ----
ax = panel((0, 250), (88, 463), (0, -4), (985, 1173), (-4, 253), (-4.6, 0.6))
frame(ax, 'top', 'left', time_major, time_minor, [-4, -3, -2, -1, 0],
      [-3.5, -2.5, -1.5, -0.5], 'out', 'out', xlab=True, xpad=4)
sim_line(ax, fryp_left_sim_t, fryp_left_sim, z=1)
t, v = series(fryp_left_exp_t, fryp_left_exp, fryp_left_tail_t0, fryp_left_tail,
              half=fryp_left_half)
exp_line(ax, t, v, lw=NOISE_LW)
stacked_ylabel(35, 1073, [('F', 17.5), ('RYP', 13), (' (N)', 17.5)])
label_px(288, 928, 'Time (sec.)', size=16.5)

# ---- FRYP, right ----
ax = panel((0, 250), (600, 983), (0, -4), (1107, 1295), (-4, 253), (-4.25, 3.5))
frame(ax, 'top', 'left', time_major, time_minor, [-4, -3, -2, -1, 0],
      [-3.5, -2.5, -1.5, -0.5], 'out', 'out', xlab=True, xpad=23)
sim_line(ax, fryp_right_sim_t, fryp_right_sim, z=1)
t, v = series(fryp_right_exp_t, fryp_right_exp, fryp_right_tail_t0, fryp_right_tail,
              half=fryp_right_half)
exp_line(ax, t, v, lw=NOISE_LW)
stacked_ylabel(553, 1196, [('F', 17.5), ('RYP', 13), (' (N)', 17.5)])
label_px(805, 1018, 'Time (sec.)', size=16.5)

# ---- legend ----
handles = [Line2D([], [], color=INK, lw=1.1, linestyle=DASHED),
           Line2D([], [], color=INK, lw=1.2)]
leg = fig.legend(handles, ['Simulation', 'Experiment'], loc='upper left',
                 bbox_to_anchor=(354 / W, 1 - 7 / H), fontsize=12.3, frameon=True,
                 fancybox=False, edgecolor=INK, facecolor=PAPER, framealpha=1,
                 handlelength=3.3, handletextpad=0.5, borderpad=0.55, labelspacing=0.38,
                 borderaxespad=0)
leg.get_frame().set_linewidth(1.3)

fig.savefig('out.png', dpi=100, facecolor=PAPER)
